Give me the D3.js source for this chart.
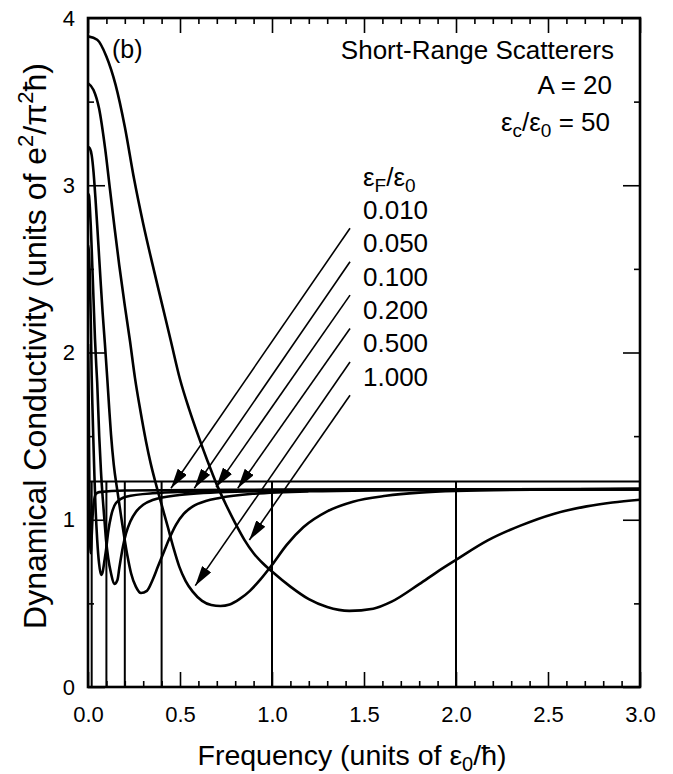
<!DOCTYPE html>
<html>
<head>
<meta charset="utf-8">
<script src="https://cdn.jsdelivr.net/npm/d3@7"></script>
<style>
  html, body { margin: 0; padding: 0; background: #fff; }
  svg text { font-family: "Liberation Sans", Arial, Helvetica, sans-serif; fill: #000; }
</style>
</head>
<body>
<svg id="chart" width="673" height="774"></svg>
<script>
// Dynamical conductivity vs frequency, one curve per Fermi energy (εF/ε0)
const fermiLabels = ["0.010", "0.050", "0.100", "0.200", "0.500", "1.000"];

// [frequency (ε0/ħ), conductivity (e²/π²ħ)]
const sigmaEF0010 = [[0,2.05],[0.002,1.95],[0.004,1.70],[0.006,1.40],[0.008,1.15],[0.010,0.96],[0.012,0.85],[0.0142,0.80],[0.017,0.83],[0.020,0.90],[0.025,1.02],[0.030,1.09],[0.043,1.155],[0.06,1.165],[0.2,1.175],[1.0,1.18],[3.0,1.183]];
const sigmaEF0050 = [[0,2.64],[0.005,2.60],[0.010,2.45],[0.015,2.20],[0.020,1.86],[0.025,1.64],[0.029,1.48],[0.035,1.26],[0.040,1.10],[0.050,0.88],[0.060,0.74],[0.071,0.67],[0.080,0.69],[0.090,0.76],[0.098,0.82],[0.110,0.93],[0.125,1.02],[0.152,1.10],[0.207,1.138],[0.351,1.158],[0.7,1.172],[1.5,1.18],[3.0,1.183]];
const sigmaEF0100 = [[0,2.95],[0.005,2.94],[0.010,2.87],[0.015,2.76],[0.020,2.62],[0.025,2.47],[0.030,2.32],[0.038,2.08],[0.045,1.92],[0.050,1.82],[0.061,1.50],[0.070,1.30],[0.080,1.13],[0.090,0.99],[0.098,0.88],[0.110,0.77],[0.125,0.68],[0.143,0.616],[0.160,0.64],[0.170,0.71],[0.190,0.84],[0.207,0.92],[0.230,0.99],[0.261,1.048],[0.300,1.09],[0.351,1.118],[0.496,1.148],[0.8,1.168],[1.5,1.178],[3.0,1.183]];
const sigmaEF0200 = [[0,3.23],[0.010,3.22],[0.020,3.18],[0.030,3.08],[0.040,2.93],[0.050,2.76],[0.060,2.58],[0.070,2.40],[0.080,2.23],[0.092,2.05],[0.105,1.84],[0.115,1.67],[0.125,1.51],[0.140,1.33],[0.160,1.17],[0.180,1.02],[0.198,0.89],[0.215,0.78],[0.234,0.68],[0.260,0.60],[0.288,0.562],[0.320,0.575],[0.351,0.64],[0.380,0.72],[0.415,0.815],[0.445,0.895],[0.478,0.97],[0.520,1.035],[0.570,1.08],[0.640,1.112],[0.714,1.13],[0.895,1.155],[1.2,1.17],[2.0,1.18],[3.0,1.183]];
const sigmaEF0500 = [[0,3.61],[0.03,3.57],[0.06,3.46],[0.093,3.22],[0.12,2.97],[0.145,2.74],[0.17,2.52],[0.20,2.28],[0.228,2.07],[0.255,1.85],[0.285,1.65],[0.315,1.47],[0.34,1.34],[0.37,1.21],[0.40,1.09],[0.433,0.96],[0.465,0.83],[0.496,0.72],[0.53,0.635],[0.569,0.57],[0.62,0.515],[0.67,0.49],[0.72,0.484],[0.77,0.493],[0.823,0.525],[0.88,0.575],[0.935,0.64],[1.0,0.73],[1.08,0.85],[1.17,0.955],[1.30,1.05],[1.44,1.108],[1.62,1.143],[1.80,1.162],[2.0,1.172],[2.5,1.18],[3.0,1.183]];
const sigmaEF1000 = [[0,3.89],[0.05,3.87],[0.10,3.77],[0.15,3.60],[0.20,3.35],[0.25,3.04],[0.30,2.77],[0.35,2.53],[0.40,2.30],[0.45,2.07],[0.50,1.84],[0.55,1.66],[0.60,1.50],[0.65,1.35],[0.70,1.21],[0.75,1.09],[0.80,0.98],[0.85,0.88],[0.90,0.80],[0.95,0.74],[1.00,0.69],[1.10,0.60],[1.20,0.525],[1.30,0.478],[1.42,0.455],[1.55,0.468],[1.65,0.51],[1.80,0.615],[1.90,0.69],[2.00,0.76],[2.17,0.875],[2.35,0.965],[2.53,1.035],[2.71,1.08],[2.85,1.103],[3.00,1.12]];

// Threshold markers: vertical lines at ω = 2εF, capped by the reference level
const thresholdFreqs = [0.02, 0.1, 0.2, 0.4, 1.0, 2.0];
const referenceLevel = 1.228;

// Arrow callouts from each legend entry to its curve
const arrowStartFreq = 1.424;
const arrowStartSigma = [2.743, 2.543, 2.343, 2.143, 1.943, 1.744];
const arrowTips = [[0.451,1.188],[0.578,1.188],[0.696,1.195],[0.814,1.188],[0.583,0.606],[0.877,0.879]];

// Axis ticks
const xMajorTicks = [0, 0.5, 1.0, 1.5, 2.0, 2.5, 3.0];
const xTickLabels = ["0.0", "0.5", "1.0", "1.5", "2.0", "2.5", "3.0"];
const xMinorTicks = [0.1,0.2,0.3,0.4,0.6,0.7,0.8,0.9,1.1,1.2,1.3,1.4,1.6,1.7,1.8,1.9,2.1,2.2,2.3,2.4,2.6,2.7,2.8,2.9];
const yMajorTicks = [0, 1, 2, 3, 4];
const yTickLabels = ["0", "1", "2", "3", "4"];
const yMinorTicks = [0.5, 1.5, 2.5, 3.5];

const series = [sigmaEF0010, sigmaEF0050, sigmaEF0100, sigmaEF0200, sigmaEF0500, sigmaEF1000];

const svg = d3.select("#chart");
const plotLeft = 88, plotRight = 640, plotTop = 18, plotBottom = 687;

const x = d3.scaleLinear().domain([0, 3]).range([plotLeft, plotRight]);
const y = d3.scaleLinear().domain([0, 4]).range([plotBottom, plotTop]);

const defs = svg.append("defs");
defs.append("clipPath").attr("id", "plotClip")
  .append("rect").attr("x", plotLeft).attr("y", plotTop)
  .attr("width", plotRight - plotLeft).attr("height", plotBottom - plotTop);

defs.append("marker")
  .attr("id", "arrowHead")
  .attr("viewBox", "0 0 20 11")
  .attr("refX", 20).attr("refY", 5.5)
  .attr("markerWidth", 20).attr("markerHeight", 11)
  .attr("markerUnits", "userSpaceOnUse")
  .attr("orient", "auto")
  .append("path").attr("d", "M0,0 L20,5.5 L0,11 Z").attr("fill", "#000");

const plot = svg.append("g").attr("clip-path", "url(#plotClip)");

// reference level and thresholds
plot.append("line")
  .attr("x1", x(0)).attr("x2", x(3))
  .attr("y1", y(referenceLevel)).attr("y2", y(referenceLevel))
  .attr("stroke", "#000").attr("stroke-width", 2);

plot.selectAll("line.threshold").data(thresholdFreqs).enter().append("line")
  .attr("class", "threshold")
  .attr("x1", d => x(d)).attr("x2", d => x(d))
  .attr("y1", y(0)).attr("y2", y(referenceLevel))
  .attr("stroke", "#000").attr("stroke-width", 2);

// conductivity curves
const line = d3.line().x(d => x(d[0])).y(d => y(d[1])).curve(d3.curveMonotoneX);
plot.selectAll("path.curve").data(series).enter().append("path")
  .attr("class", "curve")
  .attr("d", line)
  .attr("fill", "none")
  .attr("stroke", "#000")
  .attr("stroke-width", 2.6)
  .attr("stroke-linejoin", "round");

// arrows
svg.selectAll("line.arrow").data(arrowTips).enter().append("line")
  .attr("class", "arrow")
  .attr("x1", x(arrowStartFreq)).attr("y1", (d, i) => y(arrowStartSigma[i]))
  .attr("x2", d => x(d[0])).attr("y2", d => y(d[1]))
  .attr("stroke", "#000").attr("stroke-width", 1.6)
  .attr("marker-end", "url(#arrowHead)");

// axes: inward ticks on all four sides
function styleAxis(g) {
  g.select(".domain").remove();
  g.selectAll(".tick line").attr("stroke", "#000").attr("stroke-width", 1.6);
}
svg.append("g").attr("transform", `translate(0,${plotBottom})`)
  .call(d3.axisBottom(x).tickValues(xMinorTicks).tickSize(-6).tickFormat(""))
  .call(styleAxis);
svg.append("g").attr("transform", `translate(0,${plotTop})`)
  .call(d3.axisTop(x).tickValues(xMinorTicks).tickSize(-6).tickFormat(""))
  .call(styleAxis);
svg.append("g").attr("transform", `translate(0,${plotTop})`)
  .call(d3.axisTop(x).tickValues(xMajorTicks).tickSize(-15).tickFormat(""))
  .call(styleAxis);
const xAxis = svg.append("g").attr("transform", `translate(0,${plotBottom})`)
  .call(d3.axisBottom(x).tickValues(xMajorTicks).tickSize(-15).tickPadding(19)
    .tickFormat((d, i) => xTickLabels[i]))
  .call(styleAxis);
xAxis.selectAll("text").attr("font-size", 22).attr("fill", "#000")
  .attr("font-family", "'Liberation Sans', Arial, sans-serif");

const yAxis = svg.append("g").attr("transform", `translate(${plotLeft},0)`)
  .call(d3.axisLeft(y).tickValues(yMajorTicks).tickSize(-17).tickPadding(13)
    .tickFormat((d, i) => yTickLabels[i]))
  .call(styleAxis);
yAxis.selectAll("text").attr("font-size", 22).attr("fill", "#000")
  .attr("font-family", "'Liberation Sans', Arial, sans-serif");
svg.append("g").attr("transform", `translate(${plotLeft},0)`)
  .call(d3.axisLeft(y).tickValues(yMinorTicks).tickSize(-6).tickFormat(""))
  .call(styleAxis);
svg.append("g").attr("transform", `translate(${plotRight},0)`)
  .call(d3.axisRight(y).tickValues(yMajorTicks).tickSize(-17).tickFormat(""))
  .call(styleAxis);
svg.append("g").attr("transform", `translate(${plotRight},0)`)
  .call(d3.axisRight(y).tickValues(yMinorTicks).tickSize(-6).tickFormat(""))
  .call(styleAxis);

// frame
svg.append("rect")
  .attr("x", plotLeft).attr("y", plotTop)
  .attr("width", plotRight - plotLeft).attr("height", plotBottom - plotTop)
  .attr("fill", "none").attr("stroke", "#000").attr("stroke-width", 2.6);

// axis titles
const xTitle = svg.append("text")
  .attr("x", 352).attr("y", 765)
  .attr("text-anchor", "middle").attr("font-size", 28.5);
xTitle.append("tspan").text("Frequency (units of ε");
xTitle.append("tspan").attr("font-size", 20).attr("dy", 6).text("0");
xTitle.append("tspan").attr("dy", -6).text("/ħ)");

const yTitle = svg.append("text")
  .attr("transform", "translate(46,346) rotate(-90)")
  .attr("text-anchor", "middle").attr("font-size", 32);
yTitle.append("tspan").text("Dynamical Conductivity (units of e");
yTitle.append("tspan").attr("font-size", 22).attr("dy", -13).text("2");
yTitle.append("tspan").attr("dy", 13).text("/π");
yTitle.append("tspan").attr("font-size", 22).attr("dy", -13).text("2");
yTitle.append("tspan").attr("dy", 13).text("ħ)");

// panel tag and parameter annotations
svg.append("text").attr("x", 112).attr("y", 58).attr("font-size", 25).text("(b)");

svg.append("text").attr("x", 614).attr("y", 59).attr("text-anchor", "end")
  .attr("font-size", 26).text("Short-Range Scatterers");
svg.append("text").attr("x", 612).attr("y", 94).attr("text-anchor", "end")
  .attr("font-size", 26).text("A = 20");
const ecText = svg.append("text").attr("x", 610).attr("y", 131).attr("text-anchor", "end")
  .attr("font-size", 26);
ecText.append("tspan").text("ε");
ecText.append("tspan").attr("font-size", 19).attr("dy", 6).text("c");
ecText.append("tspan").attr("dy", -6).text("/ε");
ecText.append("tspan").attr("font-size", 19).attr("dy", 6).text("0");
ecText.append("tspan").attr("dy", -6).text(" = 50");

// legend heading and entries
const legendX = 363;
const efText = svg.append("text").attr("x", legendX).attr("y", 186).attr("font-size", 26);
efText.append("tspan").text("ε");
efText.append("tspan").attr("font-size", 19).attr("dy", 6).text("F");
efText.append("tspan").attr("dy", -6).text("/ε");
efText.append("tspan").attr("font-size", 19).attr("dy", 6).text("0");

svg.selectAll("text.ef").data(fermiLabels).enter().append("text")
  .attr("class", "ef")
  .attr("x", legendX)
  .attr("y", (d, i) => 219 + i * 33.3)
  .attr("font-size", 26)
  .text(d => d);
</script>
</body>
</html>
